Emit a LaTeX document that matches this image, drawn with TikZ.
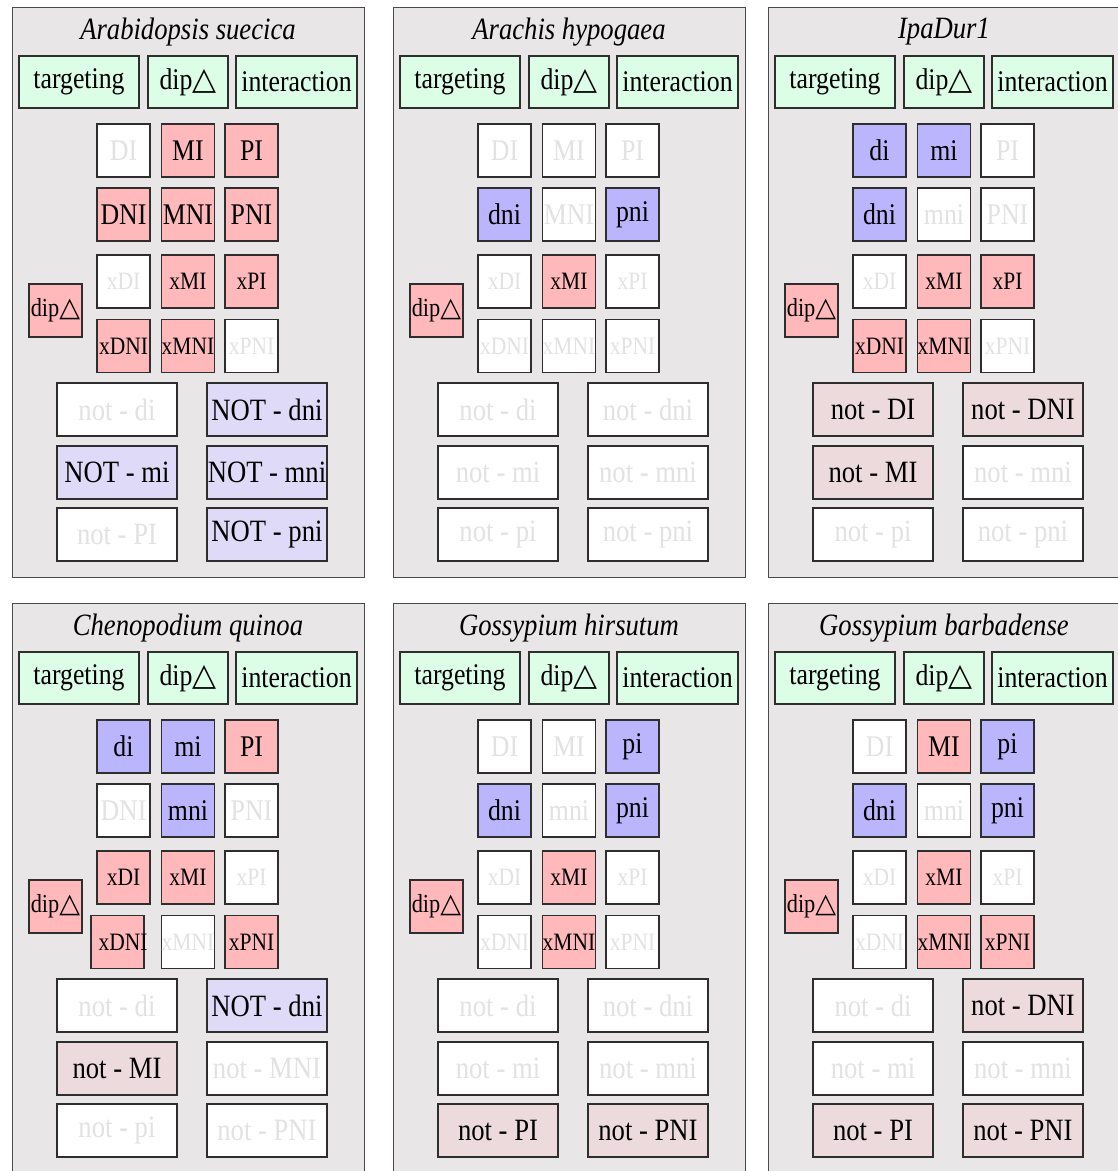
\documentclass[tikz,border=0pt]{standalone}
\usepackage{fontspec}
\setmainfont{Liberation Serif}[FakeStretch=0.86]
\newfontfamily\trifont{DejaVu Sans}[Scale=1.04]
\newcommand\tri{{\trifont △}}
\definecolor{panelbg}{HTML}{E8E6E7}
\definecolor{panelline}{HTML}{4A4A4A}
\definecolor{boxline}{HTML}{2E2E2E}
\definecolor{hdrgreen}{HTML}{DCFDE6}
\definecolor{redfill}{HTML}{FFB9BB}
\definecolor{bluefill}{HTML}{BAB5FD}
\definecolor{lightblue}{HTML}{DEDAF8}
\definecolor{lightpink}{HTML}{EDDADC}
\definecolor{fadetext}{HTML}{E2E2E2}
\tikzset{
  panelbox/.style={draw=panelline, fill=panelbg, line width=1.3pt, inner sep=0pt},
  titlef/.style={inner sep=0pt, font=\itshape\fontsize{31}{31}\selectfont},
  base/.style={draw=boxline, line width=1.3pt, inner sep=0pt, text=black},
  hdr/.style={base, fill=hdrgreen, minimum height=52pt, font=\fontsize{30}{30}\selectfont},
  cell/.style={base, minimum width=53pt, minimum height=53pt, font=\fontsize{30}{30}\selectfont},
  xcell/.style={base, minimum width=53pt, minimum height=53pt, font=\fontsize{25}{25}\selectfont},
  ncell/.style={base, minimum width=120pt, minimum height=53pt, font=\fontsize{31}{31}\selectfont},
  fd/.style={fill=white, text=fadetext},
  rd/.style={fill=redfill},
  bl/.style={fill=bluefill},
  lb/.style={fill=lightblue},
  lp/.style={fill=lightpink},
}
\newcommand\panelframe[2]{%
  \node[panelbox, minimum width=352pt, minimum height=570pt, anchor=north west] (#1) at (0,0) {};
  \node[titlef] (#1-title) at (176,25) {#2};
  \node[hdr, minimum width=120pt] (#1-tgt) at (67,75) {targeting};
  \node[hdr, minimum width=80pt] (#1-dip) at (176,75) {dip\tri};
  \node[hdr, minimum width=121pt] (#1-int) at (284.5,75) {interaction};
  \node[xcell, rd, font=\fontsize{26}{26}\selectfont] (#1-side) at (43.5,303.5) {dip\tri};}
\newcommand\gridrow[9]{%
  \node[#3,#4] (#1-1) at (111.5,#2) {#5};
  \node[#3,#6] (#1-2) at (176,#2) {#7};
  \node[#3,#8] (#1-3) at (239.5,#2) {#9};}
\newcommand\notrow[6]{%
  \node[ncell,#3] (#1-1) at (105,#2) {#4};
  \node[ncell,#5] (#1-2) at (255,#2) {#6};}
\begin{document}
\begin{tikzpicture}[x=1pt,y=-1pt]
\useasboundingbox (0,0) rectangle (1118,1171);
\clip (0,0) rectangle (1118,1171);
\fill[white] (0,0) rectangle (1118,1171);

% Panel A
\begin{scope}[shift={(12,7)}]
  \panelframe{a}{Arabidopsis suecica}
  \gridrow{a-r1}{143.5}{cell}{fd}{DI}{rd}{MI}{rd}{PI}
  \gridrow{a-r2}{207.5}{cell}{rd}{DNI}{rd}{MNI}{rd}{PNI}
  \gridrow{a-r3}{274.5}{xcell}{fd}{xDI}{rd}{xMI}{rd}{xPI}
  \gridrow{a-r4}{339}{xcell}{rd}{xDNI}{rd}{xMNI}{fd}{xPNI}
  \notrow{a-n1}{402.5}{fd}{not - di}{lb}{NOT - dni}
  \notrow{a-n2}{465.5}{lb}{NOT - mi}{lb}{NOT - mni}
  \notrow{a-n3}{527.5}{fd}{not - PI}{lb}{NOT - pni}
\end{scope}

% Panel B
\begin{scope}[shift={(393,7)}]
  \panelframe{b}{Arachis hypogaea}
  \gridrow{b-r1}{143.5}{cell}{fd}{DI}{fd}{MI}{fd}{PI}
  \gridrow{b-r2}{207.5}{cell}{bl}{dni}{fd}{MNI}{bl}{pni}
  \gridrow{b-r3}{274.5}{xcell}{fd}{xDI}{rd}{xMI}{fd}{xPI}
  \gridrow{b-r4}{339}{xcell}{fd}{xDNI}{fd}{xMNI}{fd}{xPNI}
  \notrow{b-n1}{402.5}{fd}{not - di}{fd}{not - dni}
  \notrow{b-n2}{465.5}{fd}{not - mi}{fd}{not - mni}
  \notrow{b-n3}{527.5}{fd}{not - pi}{fd}{not - pni}
\end{scope}

% Panel C
\begin{scope}[shift={(768,7)}]
  \panelframe{c}{IpaDur1}
  \gridrow{c-r1}{143.5}{cell}{bl}{di}{bl}{mi}{fd}{PI}
  \gridrow{c-r2}{207.5}{cell}{bl}{dni}{fd}{mni}{fd}{PNI}
  \gridrow{c-r3}{274.5}{xcell}{fd}{xDI}{rd}{xMI}{rd}{xPI}
  \gridrow{c-r4}{339}{xcell}{rd}{xDNI}{rd}{xMNI}{fd}{xPNI}
  \notrow{c-n1}{402.5}{lp}{not - DI}{lp}{not - DNI}
  \notrow{c-n2}{465.5}{lp}{not - MI}{fd}{not - mni}
  \notrow{c-n3}{527.5}{fd}{not - pi}{fd}{not - pni}
\end{scope}

% Panel D
\begin{scope}[shift={(12,603)}]
  \panelframe{d}{Chenopodium quinoa}
  \gridrow{d-r1}{143.5}{cell}{bl}{di}{bl}{mi}{rd}{PI}
  \gridrow{d-r2}{207.5}{cell}{fd}{DNI}{bl}{mni}{fd}{PNI}
  \gridrow{d-r3}{274.5}{xcell}{rd}{xDI}{rd}{xMI}{fd}{xPI}
  \node[xcell,rd] (d-r4-1) at (105.5,339) {\makebox[0pt]{\hspace{11pt}xDNI}};
  \node[xcell,fd] (d-r4-2) at (176,339) {xMNI};
  \node[xcell,rd] (d-r4-3) at (239.5,339) {xPNI};
  \notrow{d-n1}{402.5}{fd}{not - di}{lb}{NOT - dni}
  \notrow{d-n2}{465.5}{lp}{not - MI}{fd}{not - MNI}
  \notrow{d-n3}{527.5}{fd}{not - pi}{fd}{not - PNI}
\end{scope}

% Panel E
\begin{scope}[shift={(393,603)}]
  \panelframe{e}{Gossypium hirsutum}
  \gridrow{e-r1}{143.5}{cell}{fd}{DI}{fd}{MI}{bl}{pi}
  \gridrow{e-r2}{207.5}{cell}{bl}{dni}{fd}{mni}{bl}{pni}
  \gridrow{e-r3}{274.5}{xcell}{fd}{xDI}{rd}{xMI}{fd}{xPI}
  \gridrow{e-r4}{339}{xcell}{fd}{xDNI}{rd}{xMNI}{fd}{xPNI}
  \notrow{e-n1}{402.5}{fd}{not - di}{fd}{not - dni}
  \notrow{e-n2}{465.5}{fd}{not - mi}{fd}{not - mni}
  \notrow{e-n3}{527.5}{lp}{not - PI}{lp}{not - PNI}
\end{scope}

% Panel F
\begin{scope}[shift={(768,603)}]
  \panelframe{f}{Gossypium barbadense}
  \gridrow{f-r1}{143.5}{cell}{fd}{DI}{rd}{MI}{bl}{pi}
  \gridrow{f-r2}{207.5}{cell}{bl}{dni}{fd}{mni}{bl}{pni}
  \gridrow{f-r3}{274.5}{xcell}{fd}{xDI}{rd}{xMI}{fd}{xPI}
  \gridrow{f-r4}{339}{xcell}{fd}{xDNI}{rd}{xMNI}{rd}{xPNI}
  \notrow{f-n1}{402.5}{fd}{not - di}{lp}{not - DNI}
  \notrow{f-n2}{465.5}{fd}{not - mi}{fd}{not - mni}
  \notrow{f-n3}{527.5}{lp}{not - PI}{lp}{not - PNI}
\end{scope}
\end{tikzpicture}
\end{document}
